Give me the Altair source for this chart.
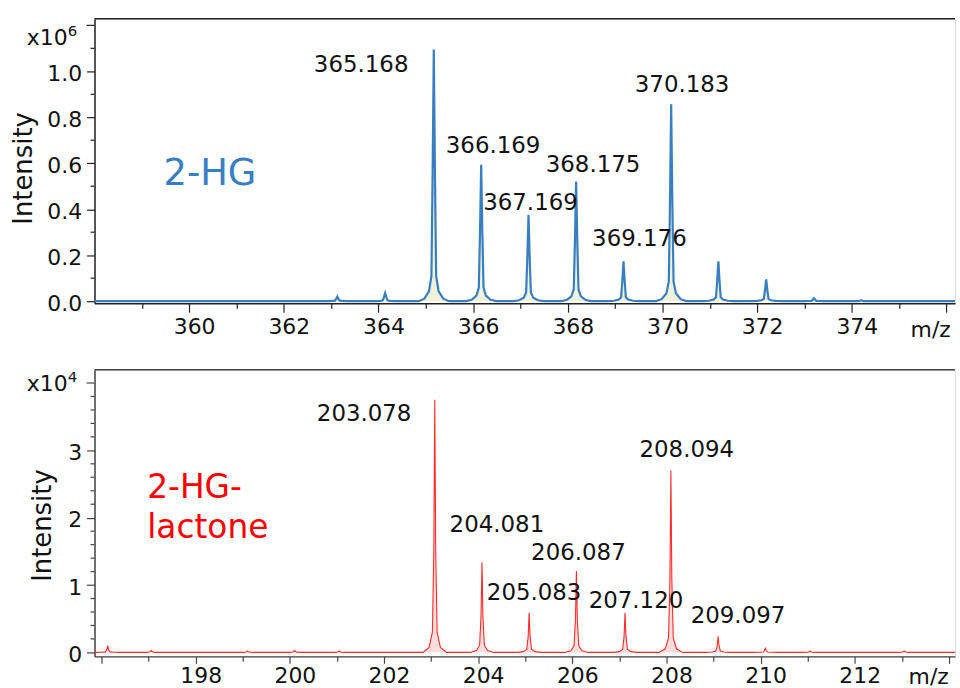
import altair as alt
import pandas as pd

# ---- 2-HG isotope cluster (intensity in units of 1e6) ----
hg_mz = [363.13, 364.14, 365.168, 366.169, 367.169, 368.175, 369.176,
         370.183, 371.18, 372.19, 373.20, 374.20]
hg_int = [0.020, 0.035, 1.095, 0.593, 0.376, 0.520, 0.173,
          0.857, 0.173, 0.095, 0.013, 0.004]
hg_lab_mz = [365.168, 366.169, 367.169, 368.175, 369.176, 370.183]
hg_lab_int = [1.095, 0.593, 0.376, 0.520, 0.173, 0.857]
hg_lab_text = ["365.168", "366.169", "367.169", "368.175", "369.176", "370.183"]
hg_lab_dx = [-73, 12, 2, 17, 16, 11]
hg_lab_dy = [16, -19, -12, -17, -22, -19]

# ---- 2-HG-lactone (intensity in units of 1e4) ----
lac_mz = [196.13, 197.05, 199.10, 200.10, 201.05, 203.078, 204.081, 205.083,
          206.087, 207.120, 208.094, 209.097, 210.10, 211.05, 213.05]
lac_int = [0.10, 0.03, 0.02, 0.03, 0.02, 3.75, 1.34, 0.59,
           1.21, 0.59, 2.70, 0.24, 0.06, 0.02, 0.02]
lac_lab_mz = [203.078, 204.081, 205.083, 206.087, 207.120, 208.094, 209.097]
lac_lab_int = [3.75, 1.34, 0.59, 1.21, 0.59, 2.70, 0.24]
lac_lab_text = ["203.078", "204.081", "205.083", "206.087", "207.120", "208.094", "209.097"]
lac_lab_dx = [-71, 15, 5, 2, 11, 16, 20]
lac_lab_dy = [14, -37, -20, -18, -12, -21, -20]

# axis ticks: x axis has ticks every unit, labels every second unit;
# y axis labels at the major values, extra ticks drawn as short rules
hg_xticks = list(range(359, 377))
hg_xlabeled = [360, 362, 364, 366, 368, 370, 372, 374]
hg_xmajor = [360, 362, 364, 366, 368, 370, 372, 374, 376]
hg_ylabels = [0.0, 0.2, 0.4, 0.6, 0.8, 1.0]
hg_ymajor_extra = [1.2]
hg_yminor = [0.1, 0.3, 0.5, 0.7, 0.9, 1.1]

lac_xticks = list(range(196, 215))
lac_xlabeled = [198, 200, 202, 204, 206, 208, 210, 212]
lac_xmajor = [196, 198, 200, 202, 204, 206, 208, 210, 212, 214]
lac_ylabels = [0, 1, 2, 3]
lac_ymajor_extra = [4]
lac_yminor = [0.2, 0.4, 0.6, 0.8, 1.2, 1.4, 1.6, 1.8, 2.2, 2.4, 2.6, 2.8,
              3.2, 3.4, 3.6, 3.8]

FONT = "DejaVu Sans"
W = 865
ONE = pd.DataFrame({"k": [0]})


def in_list(vals):
    """Vega expression testing whether a tick value is one of vals."""
    return "(" + " || ".join(f"abs(datum.value - {v}) < 0.001" for v in vals) + ")"


def profile(mzs, ints, offsets, rel, lo, hi):
    """Turn centroid peaks into a profile trace using a fixed peak shape."""
    rows = [(lo, 0.0), (hi, 0.0)]
    for m, h in zip(mzs, ints):
        for o, r in zip(offsets, rel):
            rows.append((m + o, h * r))
    return pd.DataFrame(rows, columns=["mz", "intensity"]).sort_values("mz")


hg_prof = profile(hg_mz, hg_int,
                  [-0.32, -0.2, -0.1, -0.05, -0.025, 0.0, 0.025, 0.05, 0.1, 0.2, 0.32],
                  [0.0, 0.01, 0.04, 0.1, 0.5, 1.0, 0.5, 0.1, 0.04, 0.01, 0.0],
                  358.0, 376.18)
lac_prof = profile(lac_mz, lac_int,
                   [-0.25, -0.12, -0.05, -0.02, 0.0, 0.02, 0.05, 0.12, 0.25],
                   [0.0, 0.02, 0.08, 0.4, 1.0, 0.4, 0.08, 0.02, 0.0],
                   195.85, 214.13)


def panel(prof, x_dom, y_dom, xticks, xlabeled, x_major, ylabels, y_major_extra, y_minor, y_fmt,
          line_color, line_width, fill_color, axis_color,
          lab_mz, lab_int, lab_text, lab_dx, lab_dy, y_title_x, y_title_y,
          mz_title_x, mz_title_y, x_tick_major, x_label_pad):
    x = alt.X("mz:Q", scale=alt.Scale(domain=x_dom, nice=False, zero=False),
              axis=alt.Axis(values=xticks, title="m/z",
                            labelExpr=f"{in_list(xlabeled)} ? format(datum.value, 'd') : ''",
                            labelOverlap=False,
                            tickSize={"condition": {"test": in_list(x_major), "value": x_tick_major}, "value": 5},
                            labelOffset=5, labelPadding=x_label_pad, labelFontSize=22, labelFont=FONT,
                            labelColor="#111", titleFont=FONT, titleFontSize=22,
                            titleFontWeight="normal", titleColor="#111",
                            titleX=mz_title_x, titleY=mz_title_y, titleAlign="center",
                            titleBaseline="middle", domainColor=axis_color, tickColor=axis_color,
                            domainWidth=1.5, tickWidth=1.2, grid=False))
    y = alt.Y("intensity:Q", scale=alt.Scale(domain=y_dom, nice=False, zero=False),
              axis=alt.Axis(values=ylabels, title="Intensity", format=y_fmt,
                            labelOverlap=False, tickSize=8,
                            labelOffset=2, labelPadding=5, labelFontSize=22, labelFont=FONT,
                            labelColor="#111", titleFont=FONT, titleFontSize=26,
                            titleFontWeight="normal", titleColor="#111",
                            titleX=y_title_x, titleY=y_title_y, titleBaseline="middle",
                            titleAlign="center", titleAngle=-90,
                            domainColor=axis_color, tickColor=axis_color,
                            domainWidth=1.5, tickWidth=1.2, grid=False))
    base = alt.Chart(prof)
    area = base.mark_area(color=fill_color, opacity=0.9).encode(x=x, y=y)
    line = base.mark_line(color=line_color, strokeWidth=line_width).encode(x=x, y=y)
    top = alt.Chart(ONE).mark_rule(color=axis_color, strokeWidth=1.5).encode(
        x=alt.value(0), x2=alt.value(W), y=alt.value(0))
    minor = alt.Chart(pd.DataFrame({"intensity": y_minor})).mark_rule(
        color=axis_color, strokeWidth=1.2).encode(
        y=alt.Y("intensity:Q"), x=alt.value(-4), x2=alt.value(0))
    major = alt.Chart(pd.DataFrame({"intensity": y_major_extra})).mark_rule(
        color=axis_color, strokeWidth=1.2).encode(
        y=alt.Y("intensity:Q"), x=alt.value(-8), x2=alt.value(0))
    layers = [area, line, top, minor, major]
    for m, h, t, dx, dy in zip(lab_mz, lab_int, lab_text, lab_dx, lab_dy):
        lab = alt.Chart(pd.DataFrame({"mz": [m], "intensity": [h], "t": [t]})).mark_text(
            font=FONT, fontSize=23, color="#111", dx=dx, dy=dy,
            align="center", baseline="middle").encode(
            x=alt.X("mz:Q"), y=alt.Y("intensity:Q"), text="t:N")
        layers.append(lab)
    return layers


def note(text, size, color, x, y, align="left", baseline="middle", **kw):
    return alt.Chart(ONE).mark_text(text=text, font=FONT, fontSize=size, color=color,
                                    align=align, baseline=baseline, **kw).encode(
        x=alt.value(x), y=alt.value(y))


hg_layers = panel(
    hg_prof, [358.0, 376.18], [-0.009, 1.229],
    hg_xticks, hg_xlabeled, hg_xmajor,
    hg_ylabels, hg_ymajor_extra, hg_yminor, ".1f",
    "#3a7ec2", 2.2, "#eef2d6", "#222",
    hg_lab_mz, hg_lab_int, hg_lab_text, hg_lab_dx, hg_lab_dy,
    -71, 150, 840, 26, 9, 4)

hg_extra = [
    note("x10", 22, "#111", -27, 19, align="right"),
    note("6", 15, "#111", -27, 12),
    note("2-HG", 37, "#3a7ec2", 116, 156, align="center"),
]

lac_layers = panel(
    lac_prof, [195.85, 214.13], [-0.059, 4.195],
    lac_xticks, lac_xlabeled, lac_xmajor,
    lac_ylabels, lac_ymajor_extra, lac_yminor, "d",
    "#ff2a2a", 1.1, "#ffd9d9", "#444",
    lac_lab_mz, lac_lab_int, lac_lab_text, lac_lab_dx, lac_lab_dy,
    -52, 156, 838, 20, 7, 2)

lac_extra = [
    note("x10", 22, "#111", -27, 14, align="right"),
    note("4", 15, "#111", -27, 7),
    note(["2-HG-", "lactone"], 33, "#ff0000", 53, 129, baseline="alphabetic", lineHeight=40),
]

top_chart = alt.layer(*hg_layers, *hg_extra).properties(width=W, height=286)
bottom_chart = alt.layer(*lac_layers, *lac_extra).properties(width=W, height=288)

chart = alt.vconcat(top_chart, bottom_chart, spacing=27).properties(
    padding={"left": 10, "top": 15, "right": 0, "bottom": 0}
).configure_view(stroke=None).configure(background="white")

chart.save("out.html", embed_options={"renderer": "svg", "actions": False})
